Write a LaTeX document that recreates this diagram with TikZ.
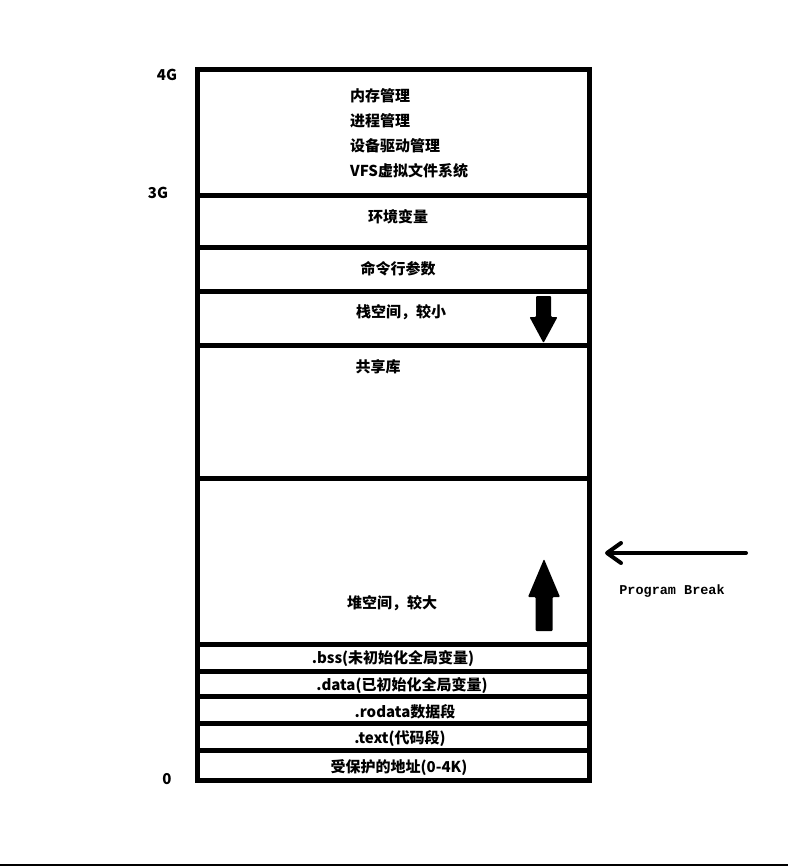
\documentclass[tikz,border=0pt]{standalone}
\usepackage{fontspec}
\setmainfont{Noto Sans CJK SC}
\newfontfamily\brkfont{Liberation Mono}
\usetikzlibrary{arrows.meta}

\begin{document}
\begin{tikzpicture}[
        x=1pt, y=-1pt,
        font=\bfseries\fontsize{15}{17}\selectfont,
        wall/.style={draw=black, line width=5pt, line join=miter},
        seg/.style={anchor=center, inner sep=0pt},
        kern/.style={anchor=west, inner sep=0pt},
        addr/.style={anchor=center, inner sep=0pt},
        growarrow/.style={fill=black, rounded corners=1pt},
        brk/.style={draw=black, line width=4pt, line cap=round,
            -{Straight Barb[length=14pt, width=20pt, round]}}
    ]

    \useasboundingbox (0,0) rectangle (788,866);

    % MEMORY BOX AND DIVIDERS
    \draw[wall] (197,70) rectangle (589.5,780.5);
    \foreach \y in {195.5, 247.5, 291.5, 345.5, 478.5, 644.5, 671.5, 696.5, 723.5, 750.5}
        \draw[wall] (197,\y) -- (589.5,\y);

    % ADDRESS LABELS
    \node[addr] (g4) at (167,75) {4G};
    \node[addr] (g3) at (158,193) {3G};
    \node[addr] (g0) at (167,779) {0};

    % KERNEL SPACE
    \node[kern] (k1) at (350,96)  {内存管理};
    \node[kern] (k2) at (350,121) {进程管理};
    \node[kern] (k3) at (350,146) {设备驱动管理};
    \node[kern] (k4) at (350,171) {VFS虚拟文件系统};

    % USER SPACE SEGMENTS
    \node[seg] (env)   at (398,217) {环境变量};
    \node[seg] (args)  at (398,269) {命令行参数};
    \node[seg] (stack) at (401,312) {栈空间，较小};
    \node[seg] (lib)   at (378,367) {共享库};
    \node[seg] (heap)  at (392,603) {堆空间，较大};
    \node[seg] (bss)   at (393,659) {.bss(未初始化全局变量)};
    \node[seg] (data)  at (402,686) {.data(已初始化全局变量)};
    \node[seg] (ro)    at (405,712) {.rodata数据段};
    \node[seg] (text)  at (400,738) {.text(代码段)};
    \node[seg] (prot)  at (399,768) {受保护的地址(0-4K)};

    % GROWTH ARROWS
    \fill[growarrow] (536,296) -- (551,296) -- (551,317) -- (557.5,317)
        -- (543.5,343) -- (529.5,317) -- (536,317) -- cycle;
    \fill[growarrow] (535.5,631) -- (552.5,631) -- (552.5,597) -- (560,597)
        -- (544,559) -- (528,597) -- (535.5,597) -- cycle;

    % PROGRAM BREAK
    \coordinate (brkfrom) at (746,553);
    \coordinate (brkto)   at (605,553);
    \draw[brk] (brkfrom) -- (brkto);
    \node[addr, font=\brkfont\bfseries\fontsize{13.5}{15}\selectfont] (brklabel) at (672,591) {Program Break};

    % BOTTOM EDGE
    \draw[line width=3pt] (0,865) -- (788,865);

\end{tikzpicture}
\end{document}
